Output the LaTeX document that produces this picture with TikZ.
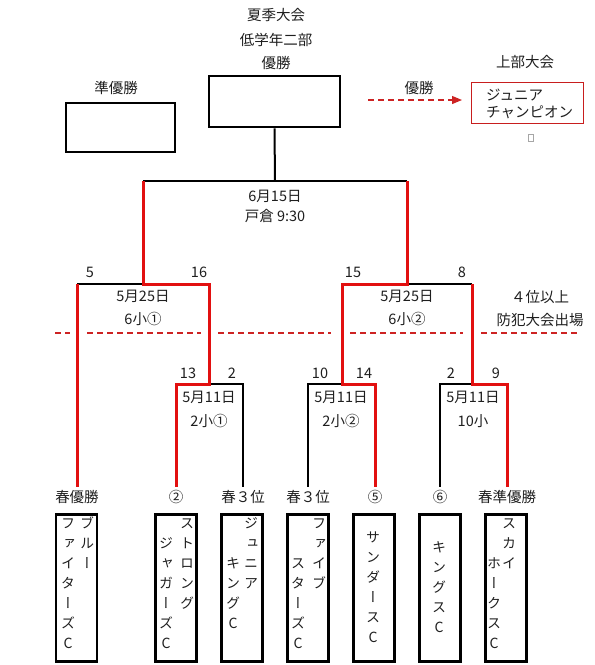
\documentclass[tikz,border=0pt]{standalone}
\usepackage{fontspec}
\setmainfont{Noto Sans CJK JP}
\newfontfamily\vertfont[RawFeature=+vert]{Noto Sans CJK JP}
\usetikzlibrary{arrows.meta}
\definecolor{wred}{RGB}{226,16,16}
\definecolor{dred}{RGB}{205,35,35}
\definecolor{boxred}{RGB}{200,30,30}
\definecolor{txt}{RGB}{30,30,30}
\newcommand{\vcolumn}[4]{\foreach \ch [count=\i] in {#4} {\node[vch] (#1-\i) at (#2,{#3+20*(\i-1)}) {\ch};}}
\begin{document}
\begin{tikzpicture}[x=1pt,y=-1pt,
  lbl/.style={inner sep=0pt,font=\fontsize{14.5}{16}\selectfont,text=txt,text height=12.6pt,text depth=1.8pt},
  vch/.style={inner sep=0pt,font=\vertfont\fontsize{14}{16}\selectfont,text=txt,text height=12.3pt,text depth=1.7pt},
  blk/.style={line width=2pt,black},
  redl/.style={line width=3pt,wred,line join=miter},
  bbox/.style={draw=black,line width=2.8pt,inner sep=0pt},
  teambox/.style={bbox,minimum width=41pt,minimum height=147pt},
  rdash/.style={line width=1.2pt,dred,dash pattern=on 6pt off 4pt},
]
\useasboundingbox (0,0) rectangle (595,665);

% titles
\node[lbl] (t1) at (276,15) {夏季大会};
\node[lbl] (t2) at (276,40) {低学年二部};
\node[lbl] (t3) at (276,63) {優勝};
\node[bbox,minimum width=131pt,minimum height=51pt] (champ) at (274.5,101.5) {};

\node[lbl] (ru) at (116,88) {準優勝};
\node[bbox,minimum width=109pt,minimum height=49pt] (rubox) at (120.5,127.5) {};

\node[lbl] (up) at (525,62) {上部大会};
\node[draw=boxred,line width=1.2pt,inner sep=0pt,minimum width=112pt,minimum height=41pt] (upbox) at (527.5,103) {};
\node[lbl,anchor=west] (up1) at (486,95) {ジュニア};
\node[lbl,anchor=west] (up2) at (486,112) {チャンピオン};
\node[draw=gray!70,line width=0.5pt,inner sep=0pt,minimum width=5pt,minimum height=7pt] (sq) at (531,138) {};

\node[lbl] (win) at (419,88) {優勝};
\coordinate (arA) at (368,100);
\coordinate (arB) at (462,100);
\draw[rdash,-{Triangle[length=10pt,width=8pt]}] (arA) -- (arB);

% bracket coordinates
\coordinate (ftop) at (275,181);
\coordinate (fl) at (143,181);
\coordinate (fr) at (407,181);
\coordinate (sl) at (143,284);
\coordinate (sr) at (407,284);
\coordinate (s1a) at (77,284);
\coordinate (s1b) at (209,284);
\coordinate (s2a) at (342,284);
\coordinate (s2b) at (472,284);
\coordinate (q1) at (209,384);
\coordinate (q1a) at (176,384);
\coordinate (q1b) at (243,384);
\coordinate (q2) at (342,384);
\coordinate (q2a) at (308,384);
\coordinate (q2b) at (375,384);
\coordinate (q3) at (472,384);
\coordinate (q3a) at (440,384);
\coordinate (q3b) at (507,384);
\coordinate (e1) at (77,487);
\coordinate (e2) at (176,487);
\coordinate (e3) at (243,487);
\coordinate (e4) at (308,487);
\coordinate (e5) at (375,487);
\coordinate (e6) at (440,487);
\coordinate (e7) at (507,487);

% black lines
\draw[blk] (champ.south) -- (ftop);
\draw[blk] (fl) -- (fr);
\draw[blk] (s1a) -- (sl);
\draw[blk] (sr) -- (s2b);
\draw[blk] (q1) -- (q1b) -- (e3);
\draw[blk] (q2) -- (q2a) -- (e4);
\draw[blk] (q3) -- (q3a) -- (e6);

% red lines
\draw[redl] (fl) -- (sl) -- (s1b) -- (q1) -- (q1a) -- (e2);
\draw[redl] (s1a) -- (e1);
\draw[redl] (fr) -- (sr) -- (s2a) -- (q2) -- (q2b) -- (e5);
\draw[redl] (s2b) -- (q3) -- (q3b) -- (e7);

% dashed line
\coordinate (d1a) at (55,333); \coordinate (d1b) at (70,333);
\coordinate (d2a) at (87,333); \coordinate (d2b) at (201,333);
\coordinate (d3a) at (218,333); \coordinate (d3b) at (331,333);
\coordinate (d4a) at (350,333); \coordinate (d4b) at (463,333);
\coordinate (d5a) at (481,333); \coordinate (d5b) at (577,333);
\draw[rdash] (d1a) -- (d1b);
\draw[rdash] (d2a) -- (d2b);
\draw[rdash] (d3a) -- (d3b);
\draw[rdash] (d4a) -- (d4b);
\draw[rdash] (d5a) -- (d5b);

% match labels
\node[lbl] (m1) at (275,196) {6月15日};
\node[lbl] (m2) at (275,216) {戸倉 9:30};
\node[lbl] (sA1) at (143,296) {5月25日};
\node[lbl] (sA2) at (143,319) {6小①};
\node[lbl] (sB1) at (407,296) {5月25日};
\node[lbl] (sB2) at (407,319) {6小②};
\node[lbl] (q4a) at (540,297) {４位以上};
\node[lbl] (q4b) at (540,320) {防犯大会出場};
\node[lbl] (qA1) at (209,397) {5月11日};
\node[lbl] (qA2) at (209,421) {2小①};
\node[lbl] (qB1) at (341,397) {5月11日};
\node[lbl] (qB2) at (341,421) {2小②};
\node[lbl] (qC1) at (473,397) {5月11日};
\node[lbl] (qC2) at (473,421) {10小};

% seed numbers
\node[lbl] (n5) at (90,272) {5};
\node[lbl] (n16) at (199,272) {16};
\node[lbl] (n15) at (353,272) {15};
\node[lbl] (n8) at (462,272) {8};
\node[lbl] (n13) at (188,373) {13};
\node[lbl] (n2a) at (232,373) {2};
\node[lbl] (n10) at (320,373) {10};
\node[lbl] (n14) at (364,373) {14};
\node[lbl] (n2b) at (451,373) {2};
\node[lbl] (n9) at (496,373) {9};

% bottom labels
\node[lbl] (b1) at (77,497) {春優勝};
\node[lbl] (b2) at (176,497) {②};
\node[lbl] (b3) at (243,497) {春３位};
\node[lbl] (b4) at (308,497) {春３位};
\node[lbl] (b5) at (375,497) {⑤};
\node[lbl] (b6) at (440,497) {⑥};
\node[lbl] (b7) at (507,497) {春準優勝};

% team boxes
\node[teambox] (tb1) at (76.5,588) {};
\node[teambox] (tb2) at (176,588) {};
\node[teambox] (tb3) at (242,588) {};
\node[teambox] (tb4) at (308,588) {};
\node[teambox] (tb5) at (374,588) {};
\node[teambox] (tb6) at (440,588) {};
\node[teambox] (tb7) at (506,588) {};

% team names (vertical)
\vcolumn{c1r}{87}{523}{ブ,ル,ー}
\vcolumn{c1l}{68}{523}{フ,ァ,イ,タ,ー,ズ,C}
\vcolumn{c2r}{187}{523}{ス,ト,ロ,ン,グ}
\vcolumn{c2l}{166}{543}{ジ,ャ,ガ,ー,ズ,C}
\vcolumn{c3r}{251}{523}{ジ,ュ,ニ,ア}
\vcolumn{c3l}{233}{563}{キ,ン,グ,C}
\vcolumn{c4r}{319}{523}{フ,ァ,イ,ブ}
\vcolumn{c4l}{298}{563}{ス,タ,ー,ズ,C}
\vcolumn{c5}{373}{537}{サ,ン,ダ,ー,ス,C}
\vcolumn{c6}{439}{547}{キ,ン,グ,ス,C}
\vcolumn{c7r}{509}{523}{ス,カ,イ}
\vcolumn{c7l}{494}{563}{ホ,ー,ク,ス,C}
\end{tikzpicture}
\end{document}
